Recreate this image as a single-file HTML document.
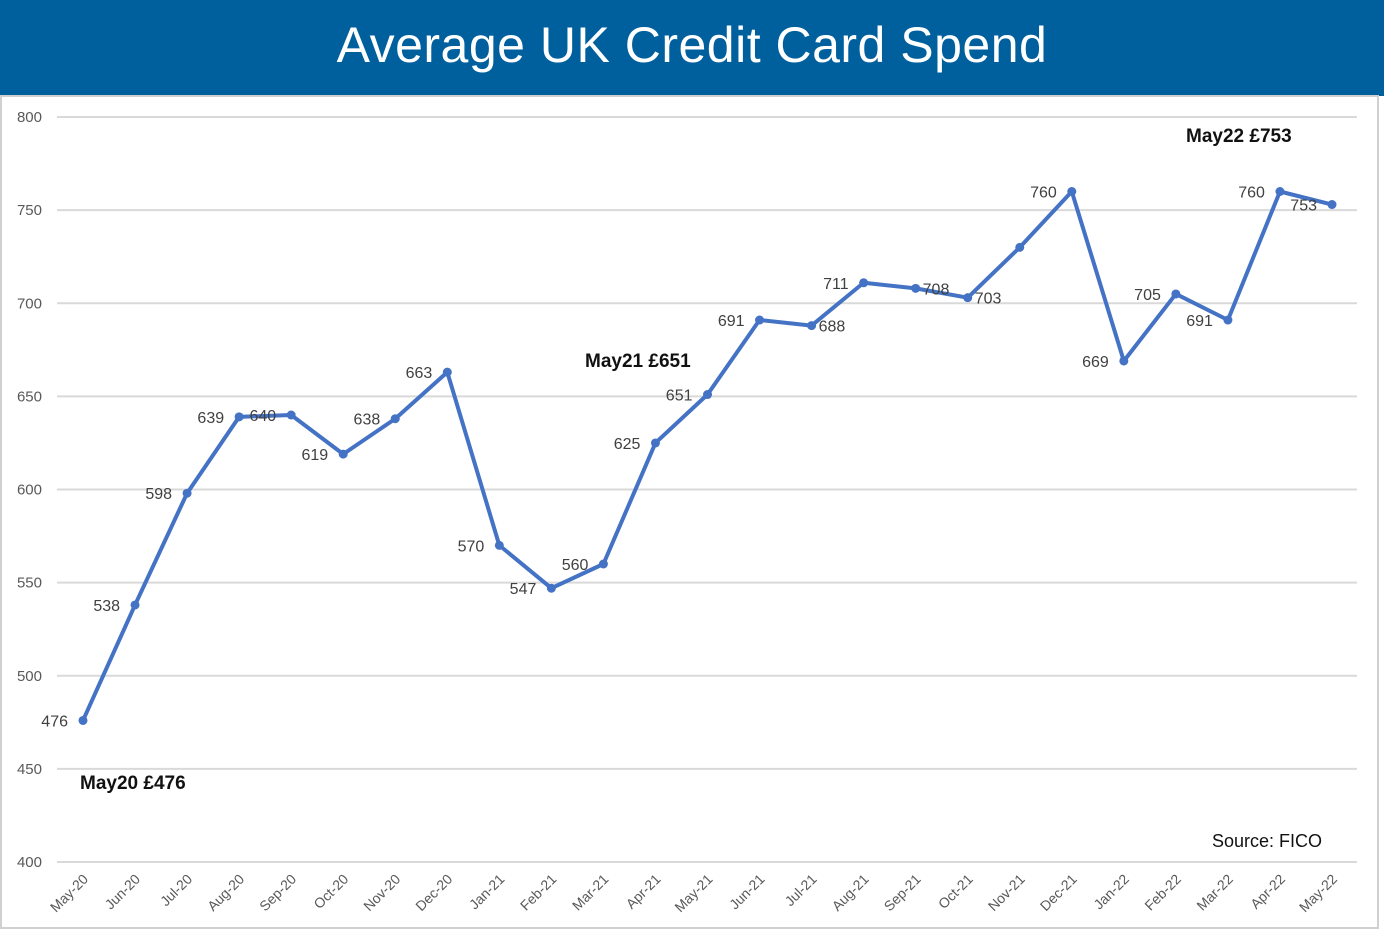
<!DOCTYPE html>
<html><head><meta charset="utf-8"><style>
body{margin:0;width:1384px;height:931px;background:#fff;overflow:hidden;font-family:"Liberation Sans",sans-serif}
#hdr{position:absolute;left:0;top:0;width:1384px;height:96px;background:#00609e;color:#fff;font-size:50px;text-align:center;line-height:90px;font-weight:300;letter-spacing:0.5px}
</style></head><body>
<div id="hdr">Average UK Credit Card Spend</div>
<svg id="c" width="1384" height="931" style="position:absolute;left:0;top:0">
<rect x="1" y="96" width="1377" height="832" fill="none" stroke="#d0d0d0" stroke-width="2"/>
</svg>
<script>
const categories=["May-20","Jun-20","Jul-20","Aug-20","Sep-20","Oct-20","Nov-20","Dec-20","Jan-21","Feb-21","Mar-21","Apr-21","May-21","Jun-21","Jul-21","Aug-21","Sep-21","Oct-21","Nov-21","Dec-21","Jan-22","Feb-22","Mar-22","Apr-22","May-22"];
const values=[476,538,598,639,640,619,638,663,570,547,560,625,651,691,688,711,708,703,730,760,669,705,691,760,753];
const shownLabels=[476,538,598,639,640,619,638,663,570,547,560,625,651,691,688,711,708,703,null,760,669,705,691,760,753];
const yTicks=[400,450,500,550,600,650,700,750,800];
const rightLabelIdx=[14,16,17];
const NS="http://www.w3.org/2000/svg",svg=document.getElementById('c');
const X=i=>83+i*(1332-83)/(categories.length-1);
const Y=v=>862-(v-400)*(862-117)/400;
function mk(t,a,txt){const e=document.createElementNS(NS,t);for(const k in a)e.setAttribute(k,a[k]);if(txt!=null)e.textContent=txt;svg.appendChild(e);return e;}
yTicks.forEach(v=>{
 const g=mk('line',{x1:57,x2:1357,y1:Y(v),y2:Y(v),stroke:'#d9d9d9','stroke-width':2});
 
 
 const t=mk('text',{x:42,y:Y(v)+5,'text-anchor':'end','font-size':15,fill:'#595959'},v);
 
 
});
categories.forEach((c,i)=>{
 const t=mk('text',{x:X(i)+6,y:880,'text-anchor':'end','font-size':14,fill:'#595959',transform:`rotate(-45 ${X(i)+6} 880)`},c);
 
 
});
const line=mk('polyline',{points:values.map((v,i)=>X(i)+','+Y(v)).join(' '),fill:'none',stroke:'#4472c4','stroke-width':4,'stroke-linejoin':'round'});


values.forEach((v,i)=>{
 const p=mk('circle',{cx:X(i),cy:Y(v),r:4.5,fill:'#4472c4'});
 
 
 const l=shownLabels[i];if(l==null)return;
 const right=rightLabelIdx.includes(i);
 const t=mk('text',{x:right?X(i)+7:X(i)-15,y:Y(v)+6,'text-anchor':right?'start':'end','font-size':16,fill:'#404040'},l);
 
 
});
[["May20 £476",80,789,'annotation-may20'],["May21 £651",585,367,'annotation-may21'],["May22 £753",1186,142,'annotation-may22']].forEach(a=>{
 const t=mk('text',{x:a[1],y:a[2],'font-size':19,'font-weight':'bold',fill:'#111'},a[0]);
 
 
});
const s=mk('text',{x:1322,y:847,'text-anchor':'end','font-size':18,fill:'#111'},'Source: FICO');


</script>
</body></html>
